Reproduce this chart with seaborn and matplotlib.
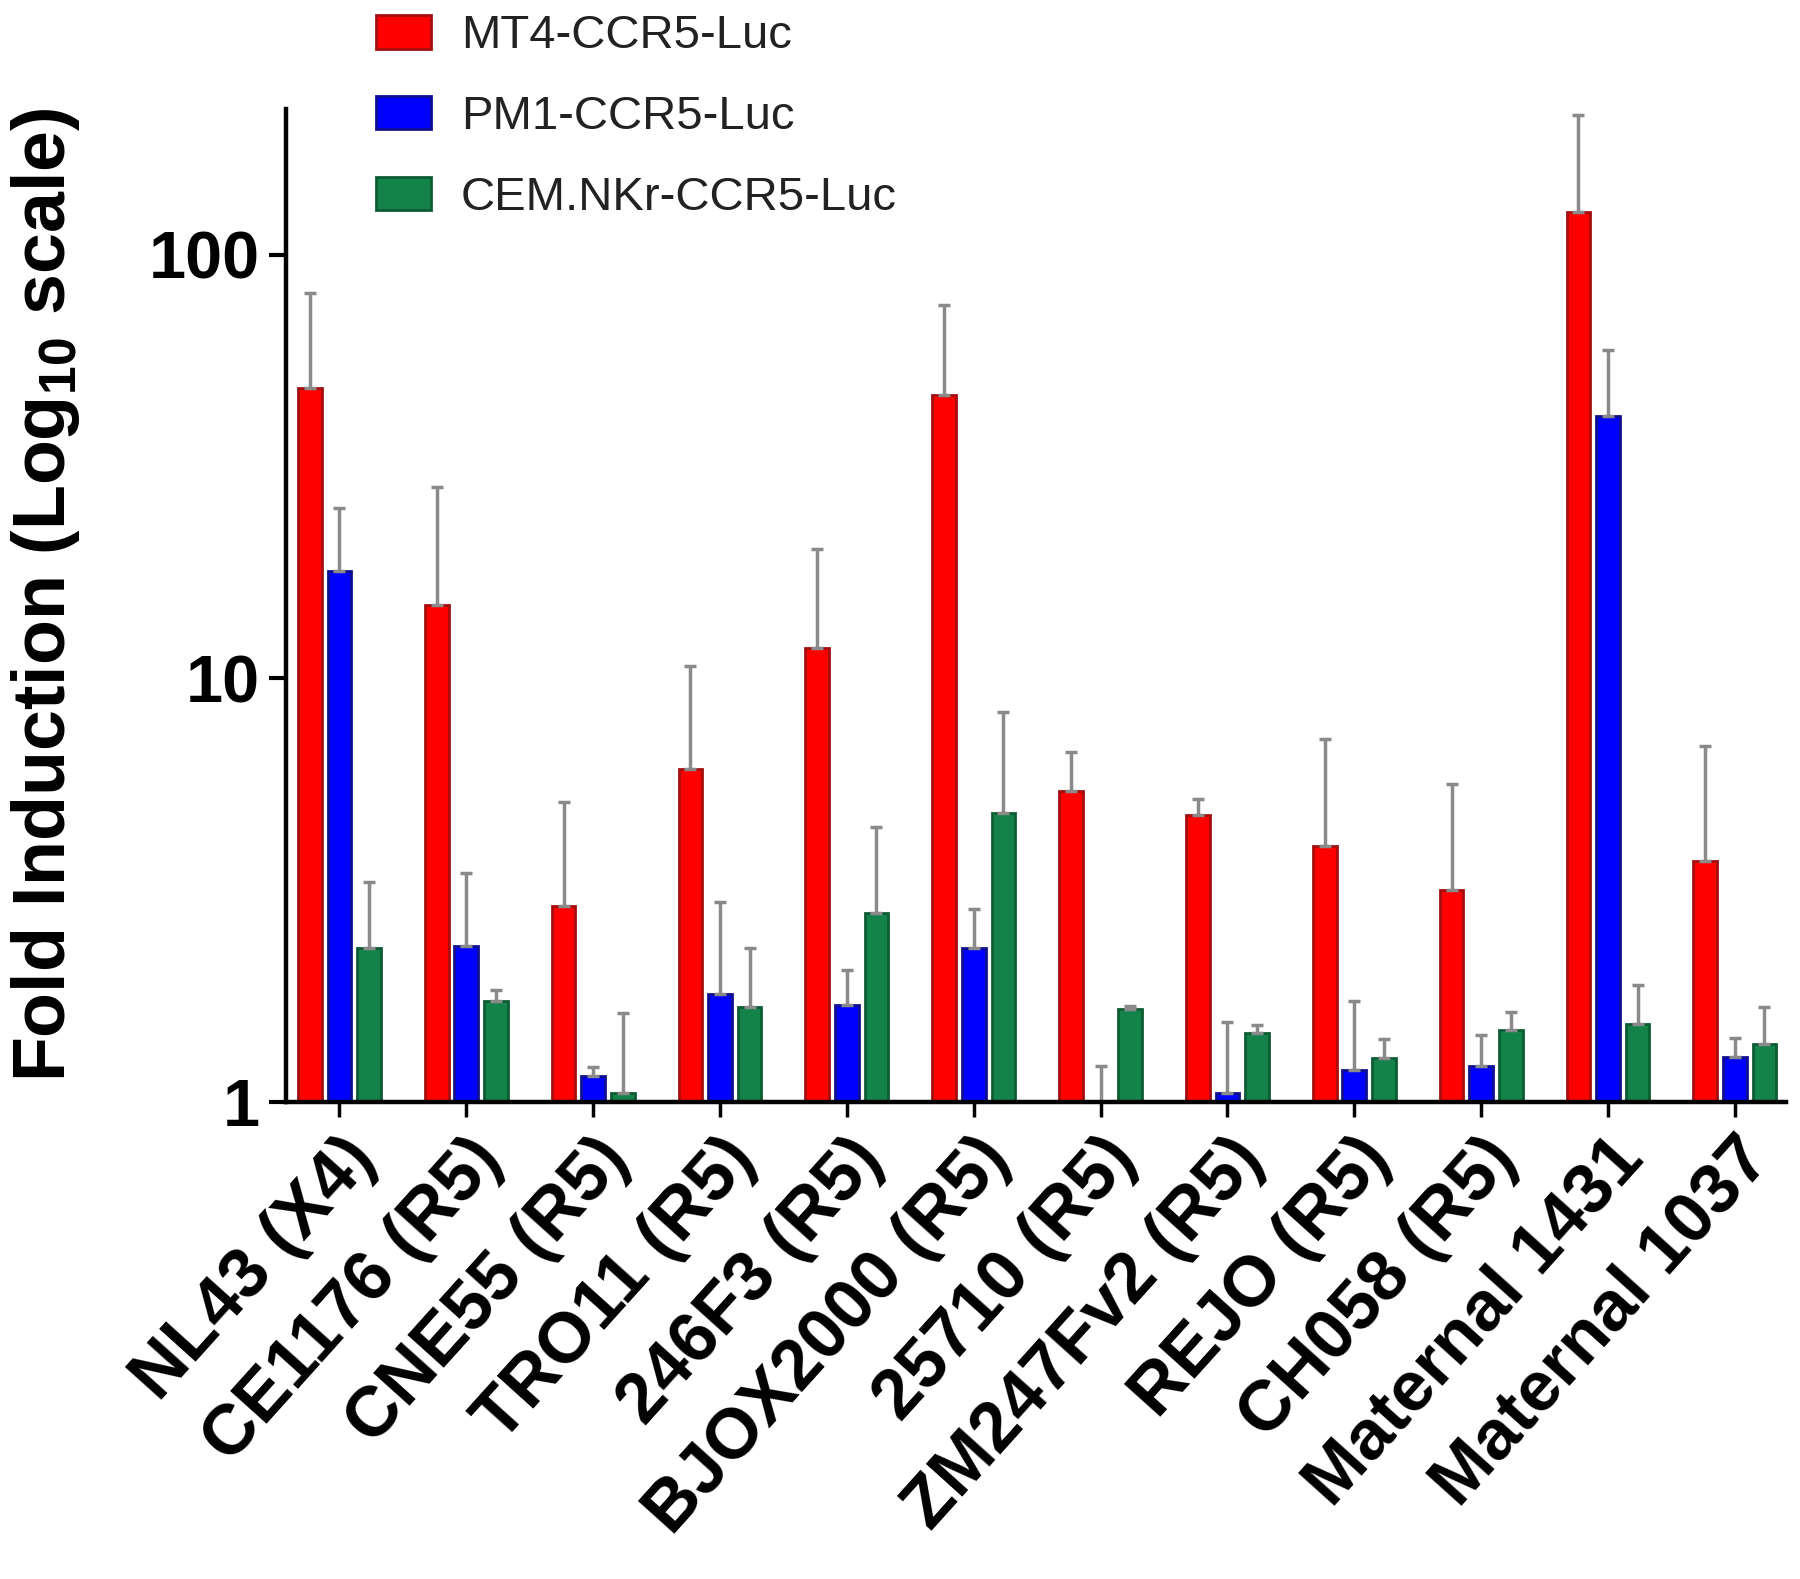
import numpy as np
import pandas as pd
import matplotlib
matplotlib.use("Agg")
import matplotlib.pyplot as plt
from matplotlib.patches import Patch
import seaborn as sns

strains = ['NL43 (X4)', 'CE1176 (R5)', 'CNE55 (R5)', 'TRO11 (R5)', '246F3 (R5)',
           'BJOX2000 (R5)', '25710 (R5)', 'ZM247Fv2 (R5)', 'REJO (R5)',
           'CH058 (R5)', 'Maternal 1431', 'Maternal 1037']
cell_lines = ['MT4-CCR5-Luc', 'PM1-CCR5-Luc', 'CEM.NKr-CCR5-Luc']

mt4 = [48.5, 14.9, 2.91, 6.11, 11.8, 46.7, 5.43, 4.76, 4.02, 3.17, 126, 3.71]
mt4_hi = [81.4, 28.3, 5.10, 10.7, 20.2, 76.0, 6.71, 5.19, 7.18, 5.63, 214, 6.92]
pm1 = [17.9, 2.34, 1.154, 1.80, 1.70, 2.31, 1.0, 1.05, 1.19, 1.22, 41.7, 1.28]
pm1_hi = [25.2, 3.48, 1.21, 2.96, 2.05, 2.85, 1.22, 1.55, 1.73, 1.44, 59.6, 1.42]
cem = [2.31, 1.73, 1.05, 1.68, 2.80, 4.82, 1.66, 1.46, 1.27, 1.48, 1.53, 1.37]
cem_hi = [3.31, 1.84, 1.62, 2.31, 4.47, 8.35, 1.69, 1.52, 1.41, 1.63, 1.89, 1.68]

fills = ['#ff0000', '#0000ff', '#13834a']
edges = ['#a30f0f', '#10108f', '#0e5c33']

df = pd.DataFrame({
    'strain': strains * 3,
    'line': np.repeat(cell_lines, len(strains)),
    'fold': mt4 + pm1 + cem,
    'upper': mt4_hi + pm1_hi + cem_hi,
})

sns.set_style('ticks')
plt.rcParams['font.family'] = ['Liberation Sans', 'DejaVu Sans']
plt.rcParams['mathtext.fontset'] = 'custom'
plt.rcParams['mathtext.rm'] = 'Liberation Sans:bold'
plt.rcParams['mathtext.it'] = 'Liberation Sans:bold'
plt.rcParams['mathtext.bf'] = 'Liberation Sans:bold'
for key in ['axes.labelcolor', 'xtick.color', 'ytick.color']:
    plt.rcParams[key] = 'black'
plt.rcParams['text.color'] = '#222222'

fig = plt.figure(figsize=(18, 15.79), dpi=100)
ax = fig.add_axes([0.159, 0.302, 0.833, 0.629])

sns.barplot(data=df, x='strain', y='fold', hue='line', order=strains,
            hue_order=cell_lines, palette=fills, saturation=1, errorbar=None,
            width=0.7, gap=0.2, linewidth=2, log_scale=(False, True),
            legend=False, ax=ax)

# upward-only error bars, drawn behind the bars
for cont, ec, line in zip(ax.containers, edges, cell_lines):
    sub = df[df['line'] == line].set_index('strain').loc[strains]
    xs = []
    for bar in cont:
        bar.set_edgecolor(ec)
        xs.append(bar.get_x() + bar.get_width() / 2)
    lo = np.zeros(len(sub))
    hi = sub['upper'].values - sub['fold'].values
    ax.errorbar(xs, sub['fold'].values, yerr=[lo, hi], fmt='none',
                ecolor='#8a8a8a', elinewidth=2.5, capsize=4, capthick=2.5,
                zorder=1)

ax.set_yscale('log')
ax.set_ylim(1, 221)
ax.set_xlim(-0.42, 11.4)
ax.set_yticks([1, 10, 100])
ax.set_yticklabels(['1', '10', '100'])
ax.yaxis.set_minor_locator(matplotlib.ticker.NullLocator())
ax.set_xlabel('')
ax.set_ylabel(r'Fold Induction (Log$_{10}$ scale)', fontsize=53,
              fontweight='bold', color='black')
ax.yaxis.set_label_coords(-0.136, 0.511)

for s in ['top', 'right']:
    ax.spines[s].set_visible(False)
for s in ['left', 'bottom']:
    ax.spines[s].set_linewidth(3.2)
    ax.spines[s].set_color('black')

ax.tick_params(axis='y', length=12, width=3, labelsize=48, pad=7,
               labelcolor='black')
ax.tick_params(axis='x', length=11, width=2.5, labelsize=51, pad=6,
               labelcolor='black')
for lab in ax.get_yticklabels():
    lab.set_fontweight('bold')
plt.setp(ax.get_xticklabels(), rotation=48, ha='right',
         rotation_mode='anchor', fontweight='bold')

handles = [Patch(facecolor=f, edgecolor=e, linewidth=2) for f, e in zip(fills, edges)]
fig.legend(handles, cell_lines, loc='upper left',
           bbox_to_anchor=(0.209, 0.991), frameon=False, fontsize=34,
           handlelength=1.17, handleheight=0.72, labelspacing=0.78,
           handletextpad=0.62, borderpad=0, borderaxespad=0)

fig.savefig('out.png', dpi=100)
